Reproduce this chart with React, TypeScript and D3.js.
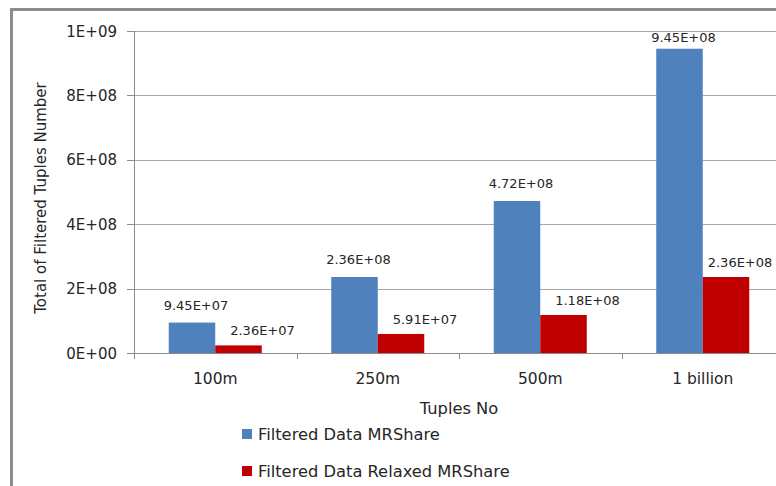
import React from "react";
import * as d3 from "d3";

const categories = ["100m", "250m", "500m", "1 billion"];
const seriesNames = ["Filtered Data MRShare", "Filtered Data Relaxed MRShare"];
const mrshare = [9.45e7, 2.36e8, 4.72e8, 9.45e8];
const relaxed = [2.36e7, 5.91e7, 1.18e8, 2.36e8];
const yTicks = [0, 2e8, 4e8, 6e8, 8e8, 1e9];
const colors = ["#4F81BD", "#C00000"];

const W = 776;
const H = 486;
const FONT = "'DejaVu Sans', sans-serif";
const TXT = "#262626";

function sci(v: number, digits: number) {
  const [m, e] = v.toExponential(digits).split("e");
  const sign = e[0] === "-" ? "-" : "+";
  const num = e.replace(/[+-]/, "").padStart(2, "0");
  return `${m}E${sign}${num}`;
}

export default function App() {
  const left = 134;
  const right = 784;
  const top = 31;
  const bottom = 353;

  const x = d3.scaleBand<string>().domain(categories).range([left, right]).paddingInner(0).paddingOuter(0);
  const xs = d3.scaleBand<string>().domain(seriesNames).range([0, x.bandwidth()]).paddingInner(0).paddingOuter(0.747);
  const y = d3.scaleLinear().domain([0, 1e9]).range([bottom, top]);

  const data = [mrshare, relaxed];
  const labelDx = [4, 24];
  const labelGap = [13, 10];

  return (
    <svg width={W} height={H} style={{ position: "absolute", left: 0, top: 0, background: "#fff" }} fontFamily={FONT}>
      <rect x={0} y={0} width={W} height={H} fill="#fff" />
      {/* outer frame */}
      <line x1={11.5} x2={11.5} y1={8} y2={H} stroke="#8c8c8c" strokeWidth={3} />
      <line x1={10} x2={W} y1={9.5} y2={9.5} stroke="#8c8c8c" strokeWidth={3} />

      {/* gridlines */}
      {yTicks.map((t) => (
        <g key={t}>
          {t > 0 && <line x1={left} x2={W} y1={Math.round(y(t)) + 0.5} y2={Math.round(y(t)) + 0.5} stroke="#a6a6a6" strokeWidth={1} />}
          <line x1={left - 7} x2={left} y1={Math.round(y(t)) + 0.5} y2={Math.round(y(t)) + 0.5} stroke="#8c8c8c" />
          <text x={117} y={y(t) + 5.5} textAnchor="end" fontSize={15} fill={TXT}>
            {sci(t, 0)}
          </text>
        </g>
      ))}

      {/* bars */}
      {data.map((vals, si) =>
        vals.map((v, ci) => {
          const bx = (x(categories[ci]) as number) + (xs(seriesNames[si]) as number);
          const bw = xs.bandwidth();
          const by = y(v);
          const ly = Math.max(by - labelGap[si], top + 11);
          const lx = Math.min(bx + bw / 2 + labelDx[si], W - 36);
          return (
            <g key={`${si}-${ci}`}>
              <rect x={bx} y={by} width={bw} height={bottom - by} fill={colors[si]} />
              <text x={lx} y={ly} textAnchor="middle" fontSize={13} fill={TXT}>
                {sci(v, 2)}
              </text>
            </g>
          );
        })
      )}

      {/* axes */}
      <line x1={left + 0.5} x2={left + 0.5} y1={top} y2={bottom} stroke="#8c8c8c" />
      <line x1={left} x2={W} y1={bottom + 0.5} y2={bottom + 0.5} stroke="#8c8c8c" />
      {categories.map((c) => (
        <line key={c} x1={Math.round(x(c) as number) + 0.5} x2={Math.round(x(c) as number) + 0.5} y1={bottom} y2={bottom + 6} stroke="#8c8c8c" />
      ))}
      {categories.map((c) => (
        <text key={c} x={(x(c) as number) + x.bandwidth() / 2} y={384} textAnchor="middle" fontSize={15.5} fill={TXT}>
          {c}
        </text>
      ))}

      {/* axis titles */}
      <text x={(left + right) / 2} y={414} textAnchor="middle" fontSize={16.3} fill={TXT}>
        Tuples No
      </text>
      <text transform={`translate(45.5, ${198}) rotate(-90)`} textAnchor="middle" fontSize={15} fill={TXT}>
        Total of Filtered Tuples Number
      </text>

      {/* legend */}
      {seriesNames.map((s, i) => (
        <g key={s} transform={`translate(242, ${429 + i * 37})`}>
          <rect x={0} y={0} width={10} height={10} fill={colors[i]} />
          <text x={16} y={10.5} fontSize={16.3} fill={TXT}>
            {s}
          </text>
        </g>
      ))}
    </svg>
  );
}
